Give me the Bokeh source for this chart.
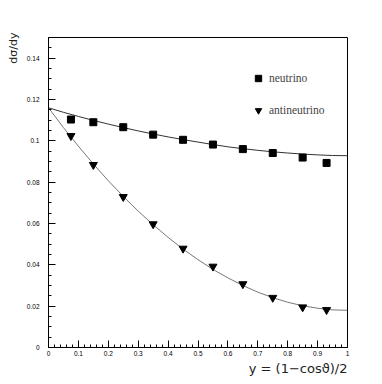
from bokeh.plotting import figure
from bokeh.models import (FixedTicker, Legend, LegendItem, Range1d, Title)
from bokeh.embed import file_html
from bokeh.resources import INLINE

# ---- data ----
y_points = [0.075, 0.15, 0.25, 0.35, 0.45, 0.55, 0.65, 0.75, 0.85, 0.93]
neutrino = [0.1103, 0.1090, 0.1066, 0.1030, 0.1005, 0.0982, 0.0960, 0.0941, 0.0919, 0.0893]
antineutrino = [0.1024, 0.0884, 0.0729, 0.0597, 0.0479, 0.0392, 0.0307, 0.0241, 0.0195, 0.0182]

curve_y = [0.0, 0.05, 0.1, 0.15, 0.2, 0.25, 0.3, 0.35, 0.4, 0.45, 0.5,
           0.55, 0.6, 0.65, 0.7, 0.75, 0.8, 0.85, 0.9, 0.95, 1.0]
neutrino_fit = [0.1160, 0.1138, 0.1118, 0.1099, 0.1081, 0.1064, 0.1048, 0.1033, 0.1019, 0.1006, 0.0994,
                0.0982, 0.0971, 0.0962, 0.0954, 0.0947, 0.0941, 0.0936, 0.0932, 0.0929, 0.0928]
antineutrino_fit = [0.1160, 0.1064, 0.0974, 0.0888, 0.0807, 0.0731, 0.0660, 0.0594, 0.0533, 0.0476, 0.0425,
                    0.0378, 0.0337, 0.0300, 0.0268, 0.0241, 0.0219, 0.0202, 0.0190, 0.0182, 0.0180]

x_ticks = [0, 0.1, 0.2, 0.3, 0.4, 0.5, 0.6, 0.7, 0.8, 0.9, 1.0]
x_tick_labels = ["0", "0.1", "0.2", "0.3", "0.4", "0.5", "0.6", "0.7", "0.8", "0.9", "1"]
y_ticks = [0, 0.02, 0.04, 0.06, 0.08, 0.1, 0.12, 0.14]
y_tick_labels = ["0", "0.02", "0.04", "0.06", "0.08", "0.1", "0.12", "0.14"]
x_minor = [i * 0.02 for i in range(51)]
y_minor = [i * 0.005 for i in range(31)]

series_labels = ["neutrino", "antineutrino"]
x_title = "y = (1\u2212cos\u03d1)/2"
y_title = "d\u03c3/dy"

p = figure(width=374, height=376, output_backend="svg", toolbar_location=None,
           x_range=Range1d(0, 1), y_range=Range1d(0, 0.15),
           min_border_left=47, min_border_right=27, min_border_top=37, min_border_bottom=28)
p.grid.visible = False
p.outline_line_color = "black"
p.outline_line_width = 1
p.background_fill_color = "white"

for ax, ticks, labels, minor in ((p.xaxis[0], x_ticks, x_tick_labels, x_minor),
                                 (p.yaxis[0], y_ticks, y_tick_labels, y_minor)):
    ax.ticker = FixedTicker(ticks=ticks, minor_ticks=minor)
    ax.major_label_overrides = {t: l for t, l in zip(ticks, labels)}
    ax.major_tick_in = 7
    ax.major_tick_out = 0
    ax.minor_tick_in = 3
    ax.minor_tick_out = 0
    ax.axis_line_color = "black"
    ax.major_tick_line_color = "black"
    ax.minor_tick_line_color = "black"
    ax.major_label_text_font = "Liberation Sans"
    ax.major_label_text_font_size = "6.5px"
    ax.major_label_text_color = "black"

p.yaxis[0].major_label_standoff = 9
p.xaxis[0].major_label_standoff = 3

r_nf = p.line(curve_y, neutrino_fit, line_color="#333333", line_width=1)
r_af = p.line(curve_y, antineutrino_fit, line_color="#777777", line_width=1)
r_n = p.scatter(y_points, neutrino, marker="square", size=7, fill_color="black", line_color="black")
r_a = p.scatter(y_points, antineutrino, marker="inverted_triangle", size=8, fill_color="black", line_color="black")

legend = Legend(items=[LegendItem(label=series_labels[0], renderers=[r_n]),
                       LegendItem(label=series_labels[1], renderers=[r_a])],
                location=(202, 227), padding=0, margin=0, spacing=12,
                glyph_width=16, glyph_height=20, label_height=20, label_standoff=3,
                label_text_font="Liberation Serif", label_text_font_size="11.5px",
                border_line_color=None, background_fill_alpha=0)
p.add_layout(legend)

p.add_layout(Title(text=x_title, align="right", text_font="DejaVu Sans", text_font_size="13px",
                   text_font_style="normal", text_color="#222222", standoff=1), "below")
p.add_layout(Title(text=y_title, align="right", text_font="DejaVu Sans", text_font_size="11px",
                   text_font_style="normal", text_color="#222222", standoff=8, offset=-5), "left")

open("out.html", "w").write(file_html(p, INLINE))
